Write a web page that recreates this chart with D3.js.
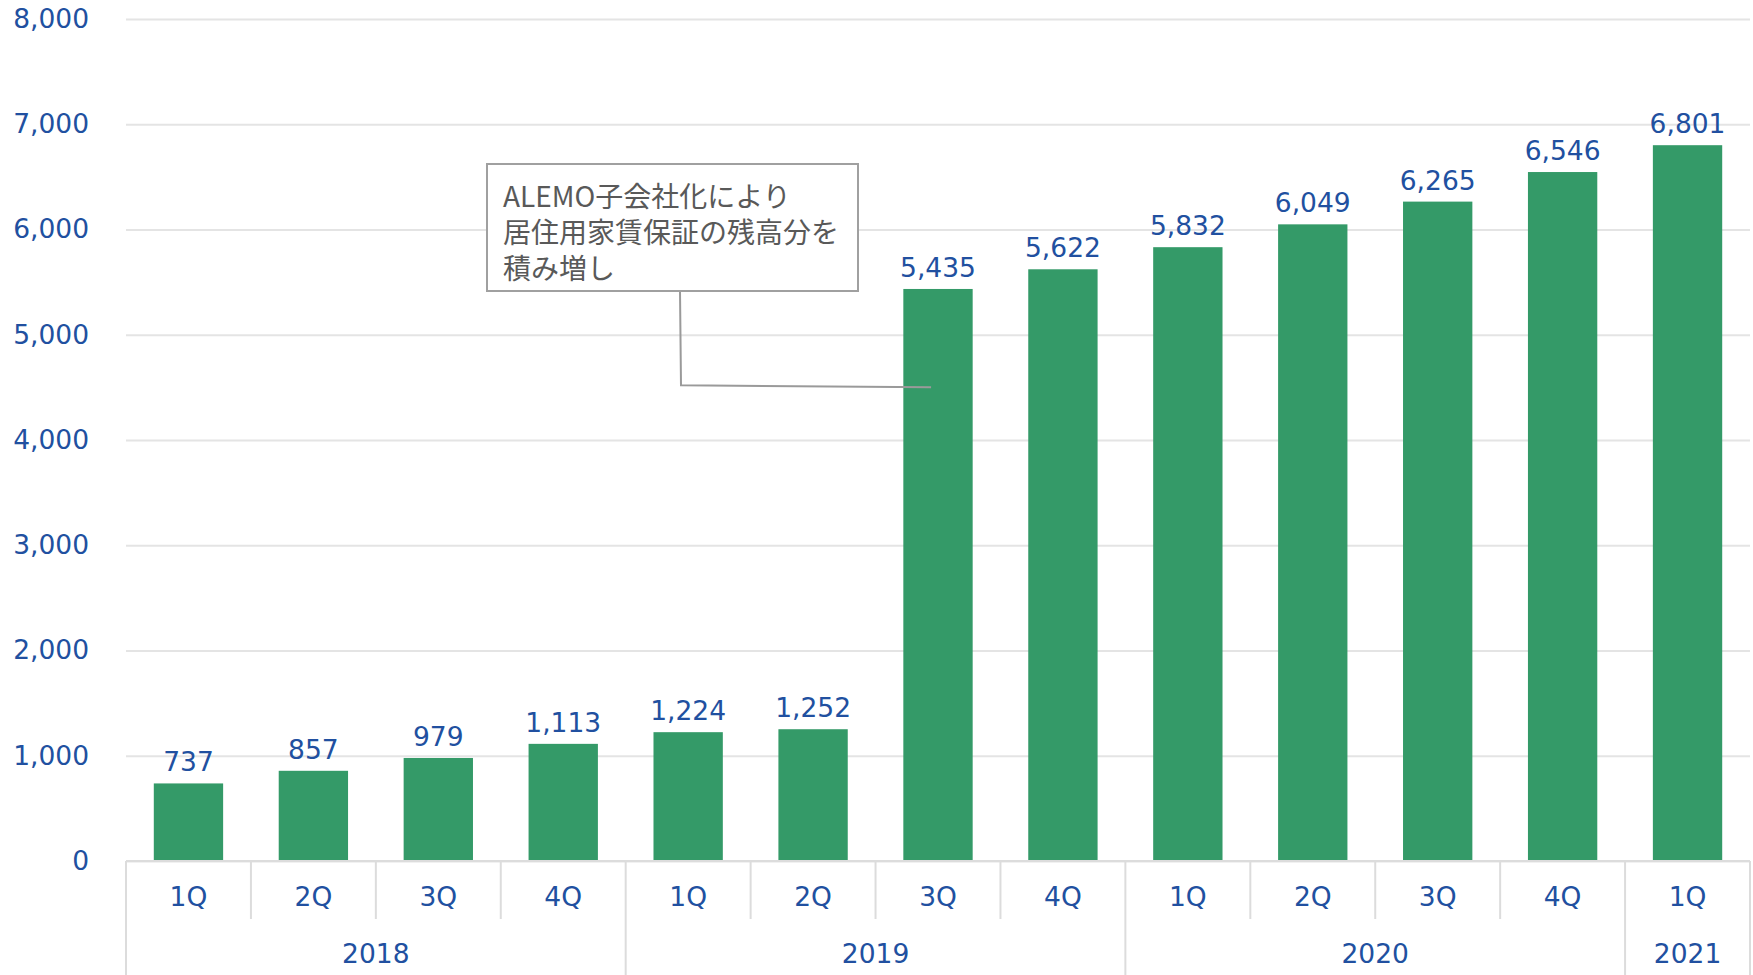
<!DOCTYPE html>
<html>
<head>
<meta charset="utf-8">
<script src="https://cdn.jsdelivr.net/npm/d3@7"></script>
<style>
  html, body { margin: 0; padding: 0; background: #fff; }
  svg text { font-family: "DejaVu Sans", Verdana, sans-serif; }
</style>
</head>
<body>
<svg id="chart" width="1753" height="975"></svg>
<script>
// data
const quarters = ["1Q", "2Q", "3Q", "4Q", "1Q", "2Q", "3Q", "4Q", "1Q", "2Q", "3Q", "4Q", "1Q"];
const years = ["2018", "2018", "2018", "2018", "2019", "2019", "2019", "2019", "2020", "2020", "2020", "2020", "2021"];
const values = [737, 857, 979, 1113, 1224, 1252, 5435, 5622, 5832, 6049, 6265, 6546, 6801];
const yTicks = [0, 1000, 2000, 3000, 4000, 5000, 6000, 7000, 8000];
const calloutLines = ["ALEMO子会社化により", "居住用家賃保証の残高分を", "積み増し"];
const calloutIndex = 6; // bar the callout points to
const calloutValue = 4520; // roughly where the leader meets the bar

const blue = "#2150a0";
const green = "#349a68";
const grid = "#e4e4e4";
const fs = "26.5px";

const margin = { left: 126, right: 3, top: 19, bottom: 114 };
const W = 1753, H = 975;
const svg = d3.select("#chart");
const g = svg.append("g");

const ids = quarters.map((q, i) => i);
const x = d3.scaleBand()
  .domain(ids)
  .range([margin.left, W - margin.right])
  .paddingInner(0.445)
  .paddingOuter(0.2225);
const y = d3.scaleLinear()
  .domain([0, 8000])
  .range([H - margin.bottom, margin.top]);

// gridlines + y labels
const yAxis = d3.axisLeft(y)
  .tickValues(yTicks)
  .tickSize(-(W - margin.right - margin.left))
  .tickPadding(37)
  .tickFormat(d3.format(","));
const ya = g.append("g")
  .attr("transform", `translate(${margin.left},0)`)
  .call(yAxis);
ya.select(".domain").remove();
ya.selectAll(".tick line").attr("stroke", grid).attr("stroke-width", 2);
ya.selectAll(".tick text")
  .attr("fill", blue)
  .style("font-size", fs);

// bars
g.selectAll("rect.bar")
  .data(values)
  .join("rect")
  .attr("class", "bar")
  .attr("x", (d, i) => x(i))
  .attr("y", d => y(d))
  .attr("width", x.bandwidth())
  .attr("height", d => y(0) - y(d))
  .attr("fill", green);

// value labels
g.selectAll("text.val")
  .data(values)
  .join("text")
  .attr("class", "val")
  .attr("x", (d, i) => x(i) + x.bandwidth() / 2)
  .attr("y", d => y(d) - 12)
  .attr("text-anchor", "middle")
  .attr("fill", blue)
  .style("font-size", fs)
  .text(d => d3.format(",")(d));

// category axis
const step = x.step();
const left = margin.left;
const base = y(0);
const axisColor = "#dcdcdc";
g.append("line")
  .attr("x1", left).attr("x2", W - margin.right)
  .attr("y1", base).attr("y2", base)
  .attr("stroke", axisColor).attr("stroke-width", 2);

// quarter separators, longer at year boundaries
ids.forEach(i => {
  const isYearStart = i === 0 || years[i] !== years[i - 1];
  g.append("line")
    .attr("x1", left + i * step).attr("x2", left + i * step)
    .attr("y1", base).attr("y2", isYearStart ? H : base + 58)
    .attr("stroke", axisColor).attr("stroke-width", 2);
});
g.append("line")
  .attr("x1", W - margin.right).attr("x2", W - margin.right)
  .attr("y1", base).attr("y2", H)
  .attr("stroke", axisColor).attr("stroke-width", 2);

g.selectAll("text.q")
  .data(quarters)
  .join("text")
  .attr("class", "q")
  .attr("x", (d, i) => x(i) + x.bandwidth() / 2)
  .attr("y", base + 45)
  .attr("text-anchor", "middle")
  .attr("fill", blue)
  .style("font-size", fs)
  .text(d => d);

// year group labels
const groups = d3.groups(ids, i => years[i]);
g.selectAll("text.yr")
  .data(groups)
  .join("text")
  .attr("class", "yr")
  .attr("x", d => left + (d3.min(d[1]) + d3.max(d[1]) + 1) / 2 * step)
  .attr("y", base + 102)
  .attr("text-anchor", "middle")
  .attr("fill", blue)
  .style("font-size", fs)
  .text(d => d[0]);

// callout
const box = { x: 487, y: 164, w: 371, h: 127 };
const leadX = 680;
const leadY = y(calloutValue);
g.append("path")
  .attr("d", `M${leadX},${box.y + box.h} L${leadX + 1},${leadY} L${x(calloutIndex) + x.bandwidth() * 0.4},${leadY + 2}`)
  .attr("fill", "none")
  .attr("stroke", "#9a9a9a")
  .attr("stroke-width", 2);
g.append("rect")
  .attr("x", box.x).attr("y", box.y)
  .attr("width", box.w).attr("height", box.h)
  .attr("fill", "#fff")
  .attr("stroke", "#a0a0a0")
  .attr("stroke-width", 2);
// one text block, one tspan per line
const callText = g.append("text")
  .attr("fill", "#595959")
  .style("font-family", "'Noto Sans CJK JP', sans-serif")
  .style("font-size", "28px");
callText.selectAll("tspan")
  .data(calloutLines)
  .join("tspan")
  .attr("x", box.x + 16)
  .attr("y", (d, i) => box.y + 43 + i * 36)
  .text(d => d);
</script>
</body>
</html>
